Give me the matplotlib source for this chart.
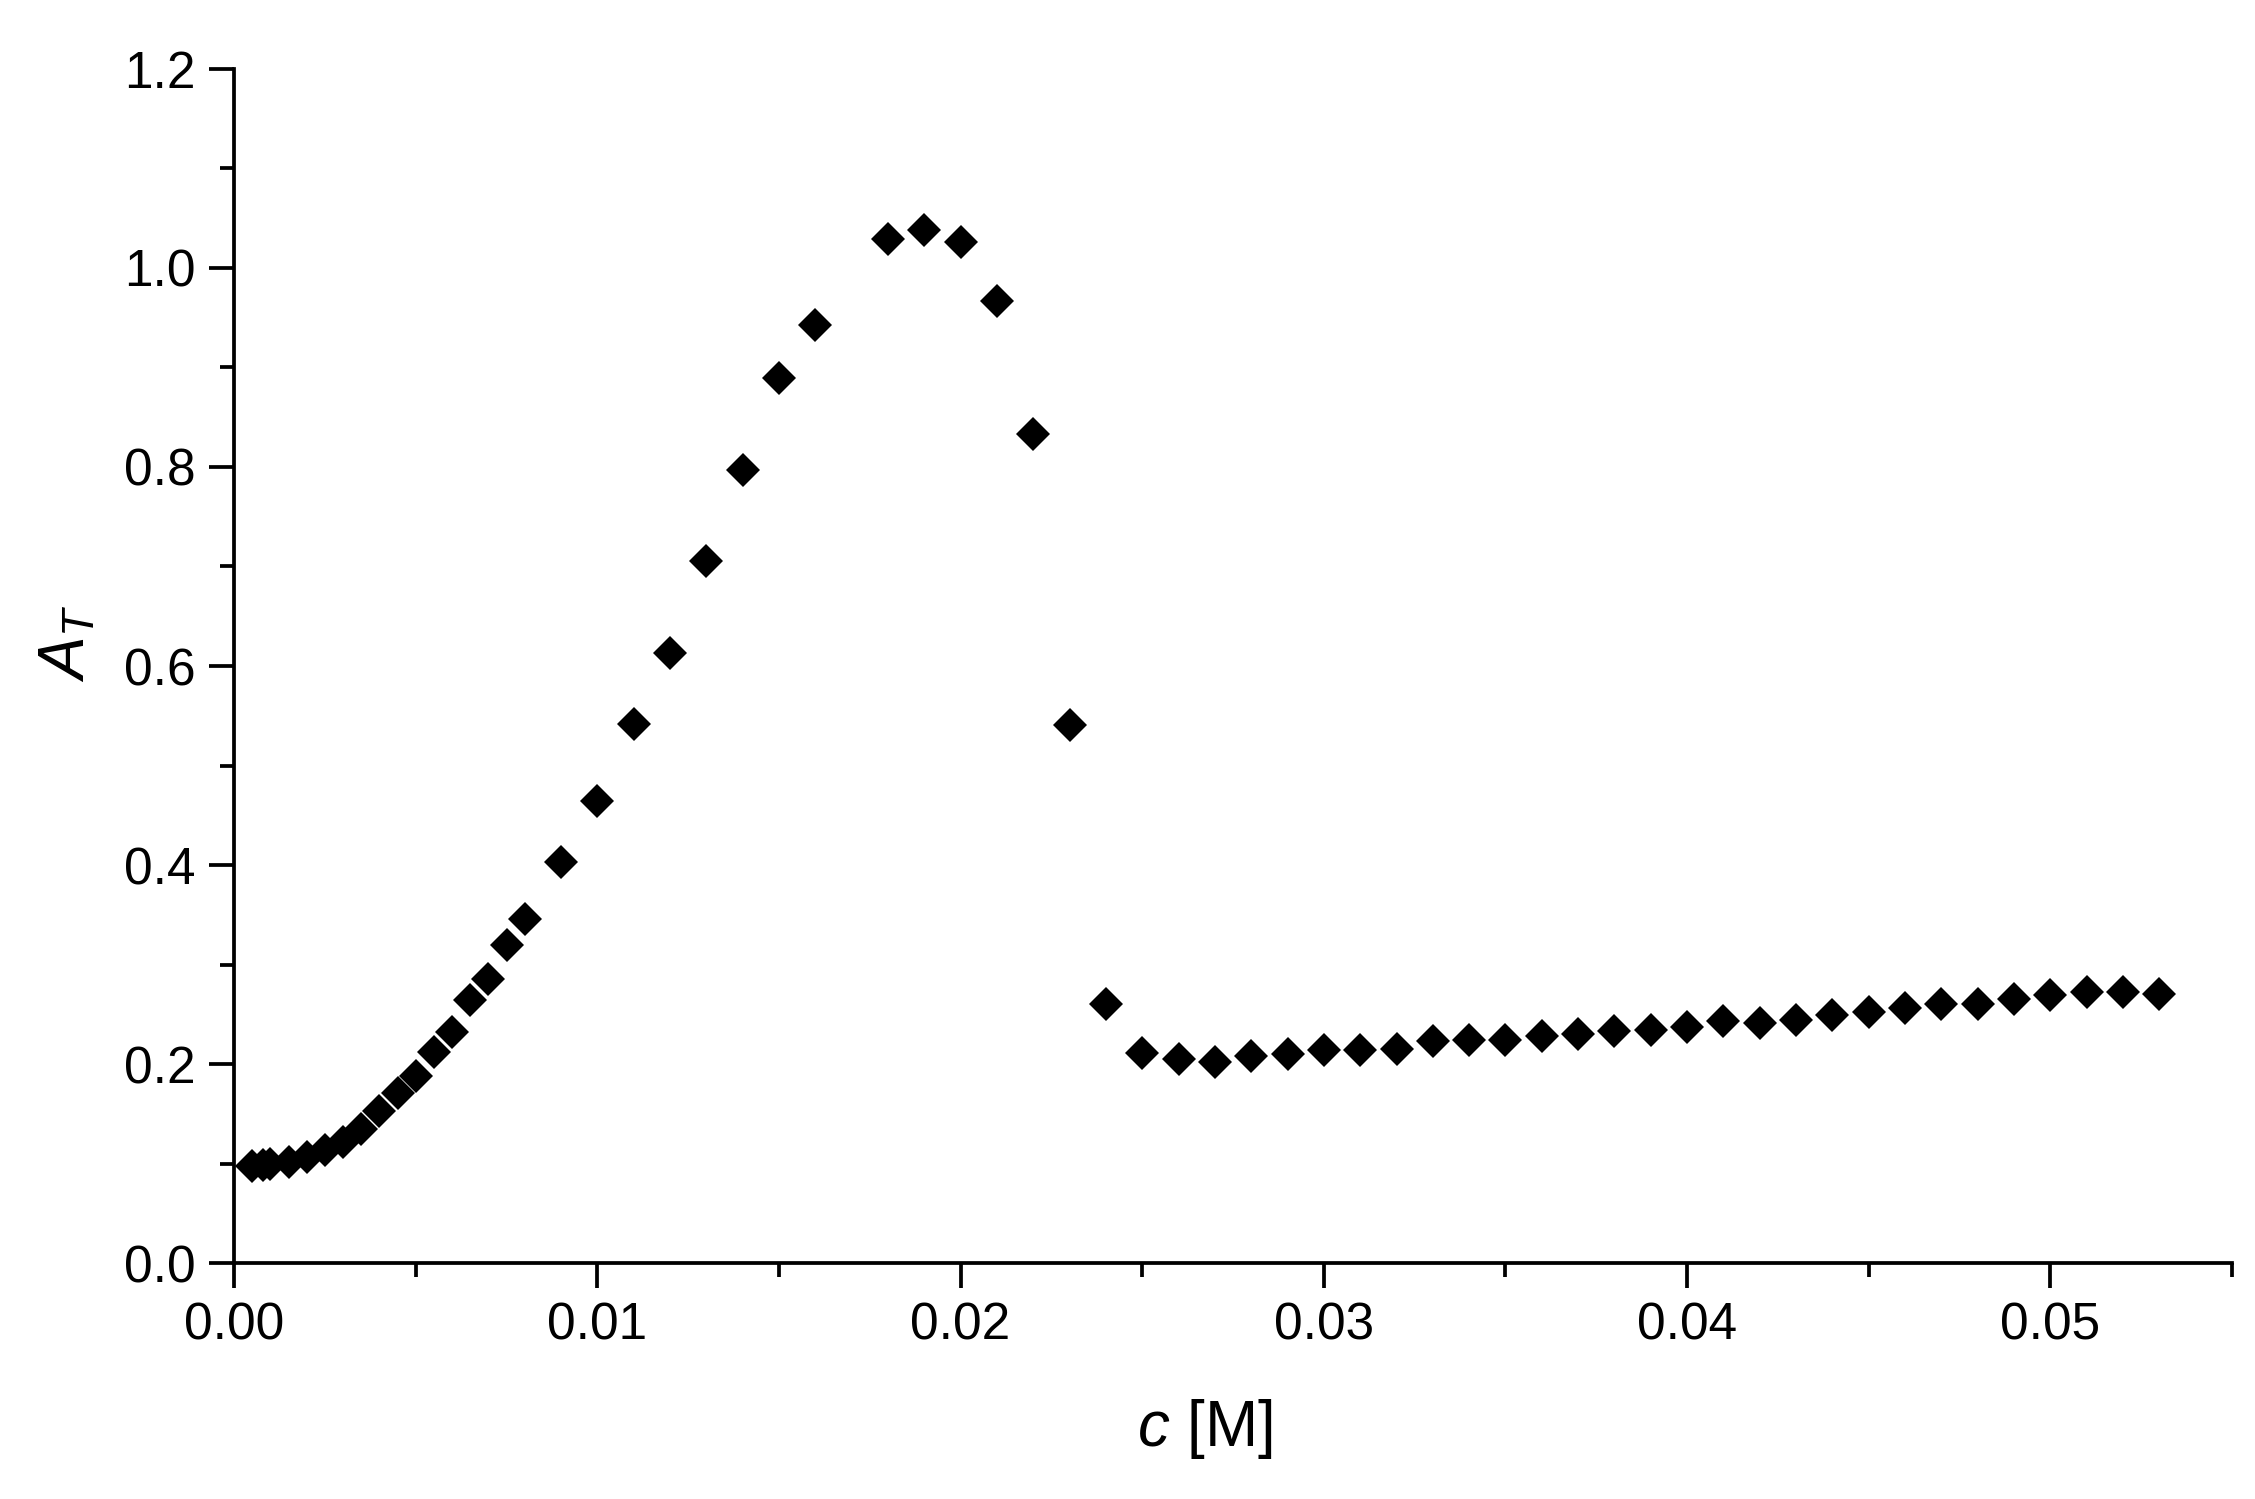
import numpy as np
import matplotlib
matplotlib.use("Agg")
import matplotlib.pyplot as plt
from matplotlib.ticker import MultipleLocator, FormatStrFormatter

plt.rcParams['font.family'] = ['Liberation Sans', 'DejaVu Sans']
plt.rcParams['mathtext.fontset'] = 'custom'
plt.rcParams['mathtext.rm'] = 'Liberation Sans'
plt.rcParams['mathtext.it'] = 'Liberation Sans:italic'

# concentration [M]
c = [0.0005, 0.0008, 0.001, 0.0015, 0.002, 0.0025, 0.003, 0.0035, 0.004, 0.0045,
     0.005, 0.0055, 0.006, 0.0065, 0.007, 0.0075, 0.008, 0.009, 0.010, 0.011,
     0.012, 0.013, 0.014, 0.015, 0.016, 0.018, 0.019, 0.020, 0.021, 0.022,
     0.023, 0.024, 0.025, 0.026, 0.027, 0.028, 0.029, 0.030, 0.031, 0.032,
     0.033, 0.034, 0.035, 0.036, 0.037, 0.038, 0.039, 0.040, 0.041, 0.042,
     0.043, 0.044, 0.045, 0.046, 0.047, 0.048, 0.049, 0.050, 0.051, 0.052, 0.053]
# A_T
A = [0.098, 0.099, 0.100, 0.102, 0.107, 0.114, 0.122, 0.135, 0.153, 0.171,
     0.188, 0.212, 0.232, 0.264, 0.285, 0.320, 0.346, 0.403, 0.464, 0.542,
     0.613, 0.706, 0.797, 0.889, 0.943, 1.029, 1.038, 1.026, 0.967, 0.833,
     0.541, 0.260, 0.211, 0.205, 0.202, 0.208, 0.210, 0.214, 0.214, 0.215,
     0.223, 0.224, 0.224, 0.228, 0.230, 0.233, 0.234, 0.237, 0.243, 0.241,
     0.244, 0.249, 0.252, 0.256, 0.260, 0.260, 0.265, 0.269, 0.272, 0.272, 0.270]

fig = plt.figure(figsize=(22.55, 14.99), dpi=100)
ax = fig.add_axes([0.1038, 0.1574, 0.886, 0.7966])

ax.plot(c, A, linestyle='none', marker='D', markersize=17.5, color='black', markeredgewidth=0)

ax.set_xlim(0, 0.055)
ax.set_ylim(0, 1.2)
ax.xaxis.set_major_locator(MultipleLocator(0.01))
ax.xaxis.set_minor_locator(MultipleLocator(0.005))
ax.yaxis.set_major_locator(MultipleLocator(0.2))
ax.yaxis.set_minor_locator(MultipleLocator(0.1))
ax.xaxis.set_major_formatter(FormatStrFormatter('%.2f'))
ax.yaxis.set_major_formatter(FormatStrFormatter('%.1f'))

for s in ['top', 'right']:
    ax.spines[s].set_visible(False)
for s in ['left', 'bottom']:
    ax.spines[s].set_linewidth(2.7)

ax.tick_params(which='major', direction='out', length=18, width=2.7, labelsize=37, pad=10)
ax.tick_params(which='minor', direction='out', length=10, width=2.7)

ax.set_xlabel('$c$ [M]', fontsize=46)
ax.set_ylabel('$A_T$', fontsize=46)
ax.xaxis.set_label_coords(0.486, -0.112)
ax.yaxis.set_label_coords(-0.068, 0.519)

fig.savefig('out.png', dpi=100)
